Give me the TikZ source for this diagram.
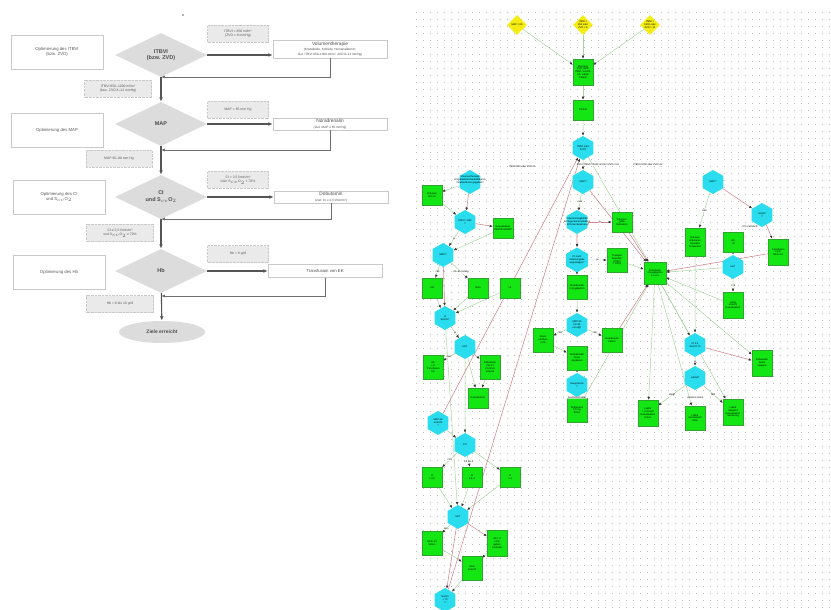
\documentclass[tikz,border=0pt]{standalone}
\usepackage{fontspec}
\setmainfont{Liberation Sans}
\usetikzlibrary{positioning,arrows.meta,shapes.geometric,backgrounds}
\definecolor{flowgrey}{HTML}{DCDCDC}
\definecolor{labelgrey}{HTML}{EAEAEA}
\definecolor{framegrey}{HTML}{C9C9C9}
\definecolor{flowline}{HTML}{555555}
\definecolor{nodegreen}{HTML}{14E614}
\definecolor{rimgreen}{HTML}{2FA52F}
\definecolor{nodecyan}{HTML}{2ADDEE}
\definecolor{nodeyellow}{HTML}{F4EC12}
\definecolor{linkgreen}{HTML}{A6D69E}
\definecolor{linkred}{HTML}{D0848E}
\definecolor{griddot}{HTML}{BDBDBD}
\newcommand{\minifont}{\fontsize{2.5pt}{2.9pt}\selectfont}

\begin{document}
\begin{tikzpicture}[
    x=1bp, y=-1bp,
    decision/.style={diamond, fill=flowgrey, minimum width=92bp, minimum height=44bp,
                     inner sep=0pt, align=center, text=black!70,
                     font=\fontsize{5.5pt}{6.5pt}\selectfont\bfseries},
    taskbox/.style={draw=framegrey, line width=0.4pt, fill=white, minimum width=92bp,
                    minimum height=34bp, align=center, text=black!65,
                    font=\fontsize{4.3pt}{5.2pt}\selectfont},
    actbox/.style={draw=framegrey, line width=0.4pt, fill=white, minimum width=114bp,
                   inner sep=1.5bp, align=center, text=black!70,
                   font=\fontsize{4.3pt}{5.2pt}\selectfont},
    condbox/.style={draw=framegrey, densely dotted, fill=labelgrey, minimum width=61bp,
                    minimum height=17bp, inner sep=1bp, align=center, text=black!65,
                    font=\fontsize{3.4pt}{4.1pt}\selectfont},
    flow/.style={-{Latex[length=1.6mm,width=1.3mm]}, line width=1.1pt, color=flowline},
    back/.style={-{Latex[length=1.4mm,width=1.1mm]}, line width=0.8pt, color=flowline!85},
    gbox/.style={rectangle, fill=nodegreen, draw=rimgreen, line width=0.3pt,
                 minimum width=20bp, minimum height=20bp, inner sep=0.5bp,
                 align=center, font=\minifont},
    hexa/.style={regular polygon, regular polygon sides=6, shape border rotate=30,
                 fill=nodecyan, minimum size=24bp, inner sep=0pt,
                 align=center, font=\minifont},
    ydia/.style={diamond, fill=nodeyellow, minimum size=20bp, inner sep=0pt,
                 align=center, font=\minifont},
    glink/.style={draw=linkgreen, line width=0.5pt, -{Latex[length=1.1mm,width=0.9mm,color=black!80]}},
    rlink/.style={draw=linkred, line width=0.55pt, -{Latex[length=1.1mm,width=0.9mm,color=black!80]}},
    elabel/.style={font=\minifont, inner sep=0.5bp, fill=white, fill opacity=0.6, text opacity=1},
  ]
  \useasboundingbox (0,0) rectangle (831,610);

  % left: algorithm
  \fill[black!60] (183,15) circle (0.8bp);

  \node[taskbox] (opt1) at (57,52) {Optimierung des ITBVI\\(bzw. ZVD)};
  \node[taskbox] (opt2) at (57,130) {Optimierung des MAP};
  \node[taskbox] (opt3) at (59,197) {Optimierung des CI\\und S$_{cv}$O$_2$};
  \node[taskbox] (opt4) at (59,272) {Optimierung des Hb};

  \node[decision] (itbvi) at (161,55) {ITBVI\\(bzw. ZVD)};
  \node[decision] (map) at (161,124) {MAP};
  \node[decision] (ci) at (161,197) {CI\\und S$_{cv}$O$_2$};
  \node[decision] (hb) at (161,271) {Hb};
  \node[ellipse, fill=flowgrey, minimum width=86bp, minimum height=22bp, inner sep=0pt,
        text=black!70, font=\fontsize{5pt}{6pt}\selectfont\bfseries] (ziel) at (162,332) {Ziele erreicht};

  \node[condbox] (low1) at (238,34) {ITBVI < 850 ml/m²\\(ZVD < 8 mmHg)};
  \node[condbox] (low2) at (238,110) {MAP < 65 mm Hg};
  \node[condbox] (low3) at (238,180) {CI < 2,5 l/min/m²\\oder S$_{cv}$O$_2$ < 70\%};
  \node[condbox] (low4) at (238,254) {Hb < 8 g/dl};

  \node[actbox] (vol) at (330,49) {{\fontsize{4.8pt}{5.5pt}\selectfont Volumentherapie}\\
    {\fontsize{3.1pt}{3.7pt}\selectfont (Kristalloide, Kolloide, Humanalbumin;}\\
    {\fontsize{3.1pt}{3.7pt}\selectfont Ziel: ITBVI 850--1000 ml/m², ZVD 8--12 mmHg)}};
  \node[actbox] (nora) at (330,124) {{\fontsize{4.8pt}{5.5pt}\selectfont Noradrenalin}\\
    {\fontsize{3.1pt}{3.7pt}\selectfont (Ziel: MAP ≥ 65 mmHg)}};
  \node[actbox] (dobu) at (331,197) {{\fontsize{4.8pt}{5.5pt}\selectfont Dobutamin}\\
    {\fontsize{3.1pt}{3.7pt}\selectfont (Ziel: CI ≥ 2,5 l/min/m²)}};
  \node[actbox, minimum height=13bp] (ek) at (325,271) {Transfusion von EK};

  \node[condbox, minimum width=67bp] (ok1) at (118,89) {ITBVI 850--1000 ml/m²\\(bzw. ZVD 8--12 mmHg)};
  \node[condbox, minimum width=66bp] (ok2) at (119,159) {MAP 65--90 mm Hg};
  \node[condbox, minimum width=67bp] (ok3) at (120,233) {CI ≥ 2,5 l/min/m²\\und S$_{cv}$O$_2$ ≥ 70\%};
  \node[condbox, minimum width=67bp] (ok4) at (120,304) {Hb > 8 bis 10 g/dl};

  \coordinate (join1) at (161,77);
  \coordinate (join2) at (161,150);
  \coordinate (join3) at (161,219);
  \coordinate (join4) at (161,296);

  \draw[flow] (itbvi) -- (map);
  \draw[flow] (map) -- (ci);
  \draw[flow] (ci) -- (hb);
  \draw[flow] (hb) -- (ziel);
  \draw[flow] (itbvi.east) -- (vol.west |- itbvi.east);
  \draw[flow] (map.east) -- (nora.west |- map.east);
  \draw[flow] (ci.east) -- (dobu.west |- ci.east);
  \draw[flow] (hb.east) -- (ek.west |- hb.east);
  \draw[back] (vol.south) |- (join1);
  \draw[back] (nora.south) |- (join2);
  \draw[back] (dobu.south) |- (join3);
  \draw[back] (ek.south) |- (join4);

  % right: network
  \node[ydia] (y1) at (517,25) {MAP < 65};
  \node[ydia] (y2) at (583,25) {ITBVI <\\850 oder\\ZVD < 8};
  \node[ydia] (y3) at (650,25) {ITBVI >\\1000 oder\\ZVD > 12};
  \node[gbox, minimum height=26bp] (g0) at (583,72) {Messung\\ZVD, MAP,\\ITBVI, ScvO2,\\Hb, Laktat\\Patient};
  \node[gbox] (g1) at (583,110) {PiCCO};
  \node[hexa] (h0) at (583,148) {ITBVI oder\\ZVD?};

  \node[hexa] (hD) at (470,182) {};
  \node[font=\minifont, align=center] (tD) at (470,180) {Volumentherapie\\Kristalloide/Kolloide/Albumin\\Volumenbolus gegeben?};
  \node[hexa] (hE) at (583,182) {MAP?};
  \node[hexa] (hF) at (713,182) {MAP?};

  \node[gbox] (gG) at (432,195) {Volumen\\500 ml};
  \node[hexa] (hH) at (465,222) {ITBVI > 850\\?};
  \node[gbox] (gI) at (503,228) {};
  \node[font=\minifont, align=center] (tI) at (503,228) {Reevaluation\\ITBVI/ZVD/MAP};
  \node[hexa] (hJ) at (443,255) {MAP?};
  \node[gbox] (gK1) at (432,288) {<65};
  \node[gbox] (gK2) at (478,288) {Nora};
  \node[gbox] (gK3) at (510,288) {ok};
  \node[hexa] (hL) at (445,318) {CI\\ScvO2?};
  \node[hexa] (hM) at (465,347) {Hb?};
  \node[gbox, minimum height=24bp] (gN1) at (433,367) {Hb\\< 8\\Transfusion\\EK};
  \node[gbox, minimum height=24bp] (gN2) at (490,367) {Dobutamin\\Ziel CI\\2,5 l/min\\erreicht};
  \node[gbox] (gN3) at (478,398) {Reevaluation};

  \node[hexa] (hP) at (577,222) {};
  \node[font=\minifont, align=center] (tP) at (577,222) {Volumenreagibilität\\Schlagvolumenvariation\\> 10\% bei Beatmung?};
  \node[gbox] (gQ) at (622,222) {Volumen-\\gabe\\fortsetzen};
  \node[hexa] (hR) at (577,260) {CI nach\\Volumengabe\\angestiegen?};
  \node[gbox, minimum height=24bp] (gS) at (617,260) {Therapie\\beenden\\(ITBVI\\> 1000)};
  \node[gbox, minimum height=24bp] (gT) at (577,287) {Noradrenalin\\0,1 µg/kg/min};
  \node[hexa] (hU) at (577,325) {MAP 65\\bis 90\\mmHg?};
  \node[gbox, minimum height=24bp] (gV1) at (543,340) {Dosis\\erhöhen\\0,05};
  \node[gbox, minimum height=24bp] (gV2) at (612,340) {Noradrenalin\\halten};
  \node[gbox, minimum height=24bp] (gW) at (577,358) {Noradrenalin\\Dosis\\anpassen};
  \node[hexa] (hX) at (577,385) {Vasopressin\\?};
  \node[gbox, minimum height=24bp] (gY) at (577,410) {Terlipressin\\0,5 mg\\Bolus};

  \node[gbox, minimum size=22bp] (gZ) at (655,273) {Dobutamin\\2,5 µg/kg/min\\a a a a};
  \node[gbox, minimum height=28bp] (gAA) at (695,242) {Volumen\\reduzieren\\Diuretika\\Furosemid};
  \node[hexa] (hAB) at (762,215) {ScvO2\\?};
  \node[gbox] (gAC) at (733,242) {Hb\\<8};
  \node[gbox, minimum height=26bp] (gAD) at (778,252) {Transfusion\\1 EK\\Hb 8--10};
  \node[hexa] (hAE) at (733,267) {Hb?};
  \node[gbox, minimum height=26bp] (gAF) at (733,305) {Ziele\\erreicht\\Reevaluation};
  \node[hexa] (hAG) at (695,345) {CI 2,5\\ScvO2 70};
  \node[gbox, minimum height=26bp] (gAH) at (762,363) {Dobutamin\\Dosis\\steigern};
  \node[hexa] (hAI) at (695,378) {Laktat?};
  \node[gbox, minimum height=26bp] (gBB) at (648,413) {Laktat\\> 2 mmol/l\\Reevaluation\\Fokus};
  \node[gbox, minimum height=24bp] (gBC) at (695,418) {Laktat\\normalisiert\\Ziele};
  \node[gbox, minimum height=26bp] (gBD) at (733,412) {Laktat\\steigend\\Reevaluation\\Sanierung};

  \node[hexa] (hCA) at (438,423) {MAP 65\\erreicht\\?};
  \node[hexa] (hCB) at (465,445) {CI?};
  \node[gbox] (gCC1) at (432,477) {CI\\< 2,5};
  \node[gbox] (gCC2) at (472,477) {CI\\2,5--4};
  \node[gbox] (gCC3) at (510,477) {CI\\> 4};
  \node[hexa] (hCD) at (458,517) {Hb?};
  \node[gbox, minimum height=24bp] (gCE1) at (432,543) {Hb 8--10\\halten};
  \node[gbox, minimum height=26bp] (gCE2) at (497,543) {Hb < 8\\1 EK\\geben\\Kontrolle};
  \node[gbox, minimum height=24bp] (gCF) at (472,568) {Ziele\\erreicht};
  \node[hexa] (hCG) at (445,600) {ScvO2\\> 70\\?};

  \begin{scope}[on background layer]
    \fill[white] (0,0) rectangle (831,610);
    \foreach \gy in {12,19,...,608}
      \draw[griddot, line width=0.7bp, dash pattern=on 0.7bp off 6.3bp] (416,\gy) -- (831,\gy);

    \foreach \a/\b in {y1/g0, y2/g0, y3/g0, g0/g1, g1/h0, h0/hE, h0/gZ,
                       hD/gG, gG/hH, hH/hJ, hJ/gK1, hJ/gK2, gK1/hL, gK2/hL, gK3/hL, gI/hJ,
                       hL/hM, hM/gN1, gN2/gN3, hM/gN3, hE/hP, hR/gS, hR/gT, gT/hU, hU/gV1,
                       hU/gV2, gV1/gW, gW/hX, hX/gY, gS/gZ, hF/gAA, gAC/hAE, hAE/gAF,
                       gAF/gZ, hAE/gZ, gAA/hAG, hAG/hAI, gZ/gBB, gZ/gBC, gZ/gBD, gZ/hAG,
                       gZ/gAH, gY/gZ, hAI/gBB, hAI/gBD, hM/hCB, hCA/hCB, hCB/gCC1, hCB/gCC2,
                       hCB/gCC3, gCC1/hCD, gCC2/hCD, gCC3/hCD, hCD/gCE1, gCE1/gCF,
                       gCE2/gCF, gCF/hCG, hL/hCD}
      \draw[glink] (\a) -- (\b);
    \foreach \a/\b in {hD/hH, hH/gI, hJ/hL, hM/gN2, hP/gQ, hP/hR, gQ/gZ, hE/gZ,
                       gV2/gZ, hF/hAB, hAB/gAD, gAD/gZ, hAG/gAH, hCD/gCE2,
                       hCG/h0, hCA/h0, hCD/hCG}
      \draw[rlink] (\a) -- (\b);
  \end{scope}

  \path (h0) -- (hD) node[elabel, pos=0.55] (lD) {ITBVI<850 oder ZVD<8};
  \path (h0) -- (hE) node[elabel, pos=0.5, xshift=15bp] (lE) {850<=ITBVI<=1000 und 8<=ZVD<=12};
  \path (h0) -- (hF) node[elabel, pos=0.5] (lF) {ITBVI>1000 oder ZVD>12};
  \path (hE) -- (hP) node[elabel, pos=0.5] (lP) {nein};
  \path (hH) -- (hJ) node[elabel, pos=0.5] (lJ) {ja};
  \path (hJ) -- (gK1) node[elabel, pos=0.5] (lK1) {<65};
  \path (hJ) -- (gK2) node[elabel, pos=0.6] (lK2) {65--90 mmHg};
  \path (hL) -- (hM) node[elabel, pos=0.5] (lM) {ja};
  \path (hM) -- (gN1) node[elabel, pos=0.5] (lN1) {nein};
  \path (hP) -- (gQ) node[elabel, pos=0.5] (lQ) {ja};
  \path (hR) -- (gS) node[elabel, pos=0.5] (lS) {ja};
  \path (hU) -- (gV1) node[elabel, pos=0.5] (lV1) {<65};
  \path (hU) -- (gV2) node[elabel, pos=0.5] (lV2) {>90};
  \path (hX) -- (gY) node[elabel, pos=0.6] (lY) {ScvO2/CI/Laktat};
  \path (hF) -- (gAA) node[elabel, pos=0.5] (lAA) {nein};
  \path (hAB) -- (gAC) node[elabel, pos=0.4] (lAC) {<70 und Hb<8};
  \path (hAE) -- (gAF) node[elabel, pos=0.5] (lAF) {>=8};
  \path (hAG) -- (hAI) node[elabel, pos=0.5] (lAI) {ja};
  \path (hAI) -- (gBB) node[elabel, pos=0.5] (lBB) {steigt};
  \path (hAI) -- (gBC) node[elabel, pos=0.5] (lBC) {Laktat<2 mmol};
  \path (hAI) -- (gBD) node[elabel, pos=0.5] (lBD) {fällt};
  \path (hCB) -- (gCC1) node[elabel, pos=0.5] (lC1) {<2,5};
  \path (hCB) -- (gCC2) node[elabel, pos=0.5] (lC2) {2,5 bis 4};
  \path (hCD) -- (gCE1) node[elabel, pos=0.5] (lE1) {nein};
\end{tikzpicture}
\end{document}
